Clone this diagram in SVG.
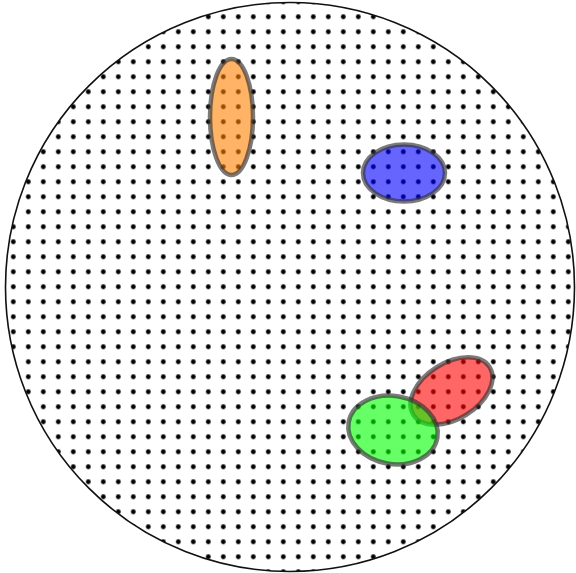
<svg xmlns="http://www.w3.org/2000/svg" width="576" height="573" viewBox="0 0 576 573">
  <style>
    .blob { stroke: #333333; stroke-opacity: 0.65; stroke-width: 4.5; fill-opacity: 0.6; }
  </style>
  <defs>
    <pattern id="dots" patternUnits="userSpaceOnUse" x="5.8" y="9.3" width="15" height="15">
      <circle cx="7.5" cy="7.5" r="2.4" fill="#000"/>
    </pattern>
    <clipPath id="disk">
      <circle cx="290" cy="287" r="284.5"/>
    </clipPath>
  </defs>
  <rect width="576" height="573" fill="#fff"/>
  <g id="field">
    <circle cx="290" cy="287" r="284.5" fill="#fff"/>
    <rect x="0" y="0" width="576" height="573" fill="url(#dots)" clip-path="url(#disk)"/>
    <circle cx="290" cy="287" r="284.5" fill="none" stroke="#111" stroke-width="1.6"/>
  </g>
  <g id="orange">
    <ellipse class="blob" cx="231.5" cy="117" rx="21.5" ry="58" fill="#ff8000"/>
  </g>
  <g id="blue">
    <ellipse class="blob" cx="404" cy="173" rx="41" ry="28.5" fill="#0000ff" fill-opacity="0.55"/>
  </g>
  <g id="red">
    <ellipse class="blob" cx="451.5" cy="391" rx="45" ry="28" transform="rotate(-32 451.5 391)" fill="#ff0000" fill-opacity="0.55"/>
  </g>
  <g id="green">
    <ellipse class="blob" cx="393" cy="430" rx="45" ry="34" transform="rotate(10 393 430)" fill="#00ff00" fill-opacity="0.5"/>
  </g>
</svg>
